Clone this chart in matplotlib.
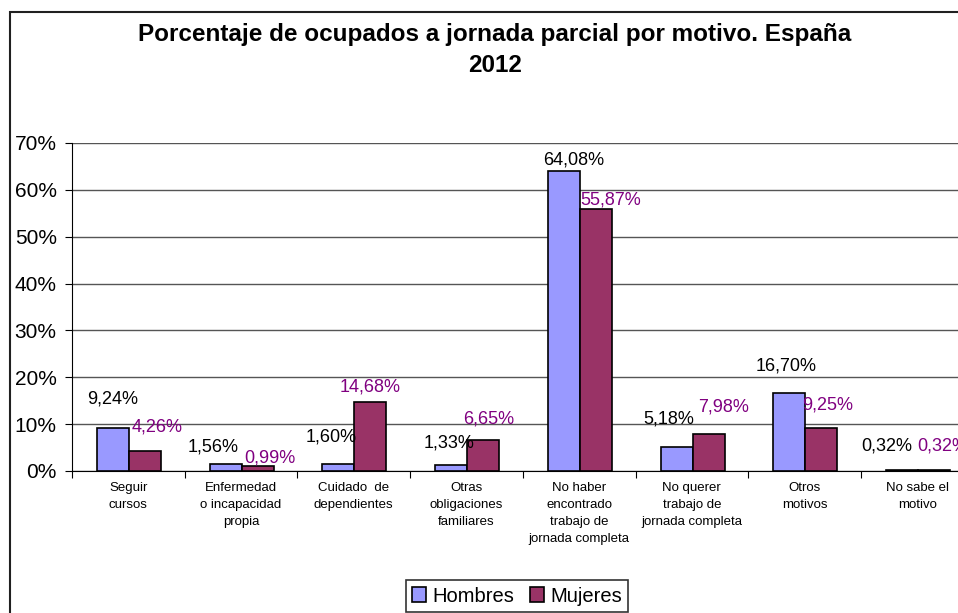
import matplotlib
matplotlib.use("Agg")
import matplotlib.pyplot as plt
from matplotlib.patches import Rectangle
import numpy as np

plt.rcParams['font.family'] = ['Liberation Sans', 'DejaVu Sans']

categories = ["Seguir\ncursos", "Enfermedad\no incapacidad\npropia", "Cuidado  de\ndependientes",
              "Otras\nobligaciones\nfamiliares", "No haber\nencontrado\ntrabajo de\njornada completa",
              "No querer\ntrabajo de\njornada completa", "Otros\nmotivos", "No sabe el\nmotivo"]
hombres = [9.24, 1.56, 1.60, 1.33, 64.08, 5.18, 16.70, 0.32]
mujeres = [4.26, 0.99, 14.68, 6.65, 55.87, 7.98, 9.25, 0.32]
series_names = ["Hombres", "Mujeres"]
yticks = [0, 10, 20, 30, 40, 50, 60, 70]
title = "Porcentaje de ocupados a jornada parcial por motivo. España\n2012"

# label offsets (pixels) relative to top-centre of each bar
h_off = [(0, 29), (-13, 17), (-7, 27), (-2, 22), (10, 11), (-8, 28), (-3, 27), (-15, 24)]
m_off = [(12, 24), (12, 8), (0, 15), (6, 21), (15, 9), (15, 27), (6, 23), (9, 24)]

W, H = 958, 613
fig = plt.figure(figsize=(W / 100, H / 100), dpi=100)
fig.patch.set_facecolor('white')

# outer chart frame (cropped on right and bottom)
fig.add_artist(Rectangle((10 / W, -0.2), 1.2, 1.2 - 12 / H, transform=fig.transFigure,
                         fill=False, edgecolor='#202020', linewidth=1.5))

left, right, bottom, top = 72, 973.6, 471, 143
ax = fig.add_axes([left / W, 1 - bottom / H, (right - left) / W, (bottom - top) / H])

n = len(categories)
x = np.arange(n)
bw = 0.284
cH = '#9999FF'
cM = '#993366'
ax.bar(x + 0.506 - bw / 2, hombres, bw, color=cH, edgecolor='black', linewidth=1.2, zorder=3,
       label=series_names[0])
ax.bar(x + 0.506 + bw / 2, mujeres, bw, color=cM, edgecolor='black', linewidth=1.2, zorder=3,
       label=series_names[1])

ax.set_xlim(0, n)
ax.set_ylim(0, 70)
ax.set_yticks(yticks)
ax.set_yticklabels([f"{v}%" for v in yticks], fontsize=15)
ax.grid(axis='y', color='#555555', linewidth=1.0, zorder=0)
ax.set_axisbelow(True)

ax.set_xticks(np.arange(n + 1))
ax.set_xticklabels([])
ax.set_xticks(x + 0.5, minor=True)
ax.set_xticklabels(categories, minor=True, fontsize=9.5, va='top')
ax.tick_params(axis='x', which='major', length=5, direction='out', color='black')
ax.tick_params(axis='x', which='minor', length=0, pad=8)
ax.tick_params(axis='y', length=5, direction='out', pad=6)
for lbl in ax.get_xticklabels(minor=True):
    lbl.set_linespacing(1.55)

for s in ['top', 'right']:
    ax.spines[s].set_visible(False)
ax.spines['left'].set_color('black')
ax.spines['bottom'].set_color('black')

def fmt(v):
    return f"{v:.2f}".replace('.', ',') + "%"

for i in range(n):
    dx, dy = h_off[i]
    ax.annotate(fmt(hombres[i]), xy=(x[i] + 0.506 - bw / 2, hombres[i]),
                xytext=(dx * 0.72, dy * 0.72), textcoords='offset points',
                ha='center', va='center', fontsize=13, color='black', zorder=5)
    dx, dy = m_off[i]
    ax.annotate(fmt(mujeres[i]), xy=(x[i] + 0.506 + bw / 2, mujeres[i]),
                xytext=(dx * 0.72, dy * 0.72), textcoords='offset points',
                ha='center', va='center', fontsize=13, color='#800080', zorder=5)

fig.text(495 / W, 1 - 50 / H, title, ha='center', va='center', fontsize=17.5,
         fontweight='bold', linespacing=1.45)

leg = fig.legend(loc='center', bbox_to_anchor=(517 / W, 1 - 596 / H), ncol=2, fontsize=14.5,
                 frameon=True, fancybox=False, edgecolor='black', handlelength=0.7,
                 handleheight=0.7, handletextpad=0.3, columnspacing=0.8, borderpad=0.3)
leg.get_frame().set_linewidth(1.2)

fig.savefig("out.png", dpi=100)
